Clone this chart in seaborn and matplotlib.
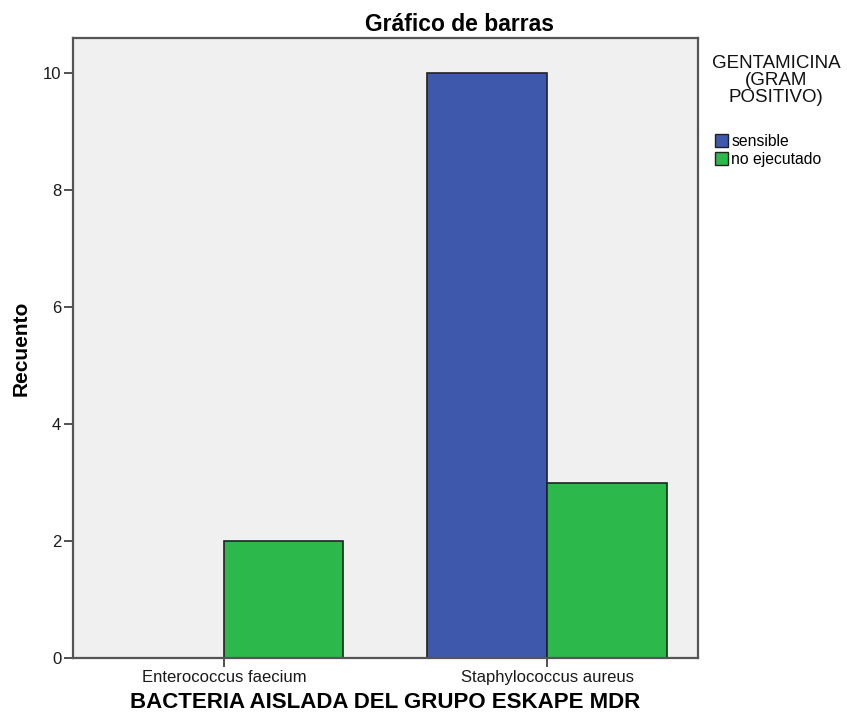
import numpy as np
import pandas as pd
import matplotlib
matplotlib.use("Agg")
import matplotlib.pyplot as plt
import seaborn as sns

categories = ["Enterococcus faecium", "Staphylococcus aureus"]
groups = ["sensible", "no ejecutado"]
sensible = [0, 10]
no_ejecutado = [2, 3]
yticks = [0, 2, 4, 6, 8, 10]

df = pd.DataFrame({
    "Bacteria": categories * 2,
    "Gentamicina": [groups[0]] * 2 + [groups[1]] * 2,
    "Recuento": sensible + no_ejecutado,
})

sns.set_style("white")
plt.rcParams["font.family"] = ["Liberation Sans", "DejaVu Sans"]
plt.rcParams["text.color"] = "black"

fig = plt.figure(figsize=(8.47, 7.24), dpi=100)
ax = fig.add_axes([0.0862, 0.0912, 0.7378, 0.8563])
ax.set_facecolor("#F0F0F0")

sns.barplot(
    data=df, x="Bacteria", y="Recuento", hue="Gentamicina",
    order=categories, hue_order=groups,
    palette=["#3E58AC", "#2DB84B"], width=0.74,
    edgecolor="#222222", linewidth=1.2, saturation=1, ax=ax,
)

ax.set_xlim(-0.467, 1.467)
ax.set_ylim(0, 10.6)
ax.set_yticks(yticks)
ax.set_yticklabels([str(v) for v in yticks])
for side in ["left", "bottom", "top", "right"]:
    ax.spines[side].set_color("#555555")
    ax.spines[side].set_linewidth(1.6)
ax.tick_params(axis="both", direction="out", length=6.5, width=1.2,
               color="#333333", labelsize=12, labelcolor="#1a1a1a",
               left=True, bottom=True, pad=2)

# SPSS centres the title over axes + legend area
ax.set_title("Gráfico de barras", fontsize=16.5, fontweight="bold",
             color="black", x=0.619, pad=5)
ax.set_ylabel("Recuento", fontsize=15, fontweight="bold", color="black",
              labelpad=9)
ax.set_xlabel("BACTERIA AISLADA DEL GRUPO ESKAPE MDR", fontsize=16,
              fontweight="bold", color="black", labelpad=5)

fig.text(776 / 847, 1 - 55 / 724, "GENTAMICINA\n(GRAM\nPOSITIVO)",
         ha="center", va="top", multialignment="center",
         fontsize=13.5, linespacing=1.0, color="#111111")

leg = ax.legend(
    loc="upper left", bbox_to_anchor=(715 / 847, 1 - 134 / 724),
    bbox_transform=fig.transFigure,
    frameon=False, fontsize=11.3,
    handlelength=0.85, handleheight=0.85, handletextpad=0.2,
    labelspacing=0.2, borderaxespad=0, borderpad=0,
)
for h in leg.legend_handles:
    h.set_edgecolor("#222222")
    h.set_linewidth(1.0)

fig.savefig("out.png", dpi=100)
